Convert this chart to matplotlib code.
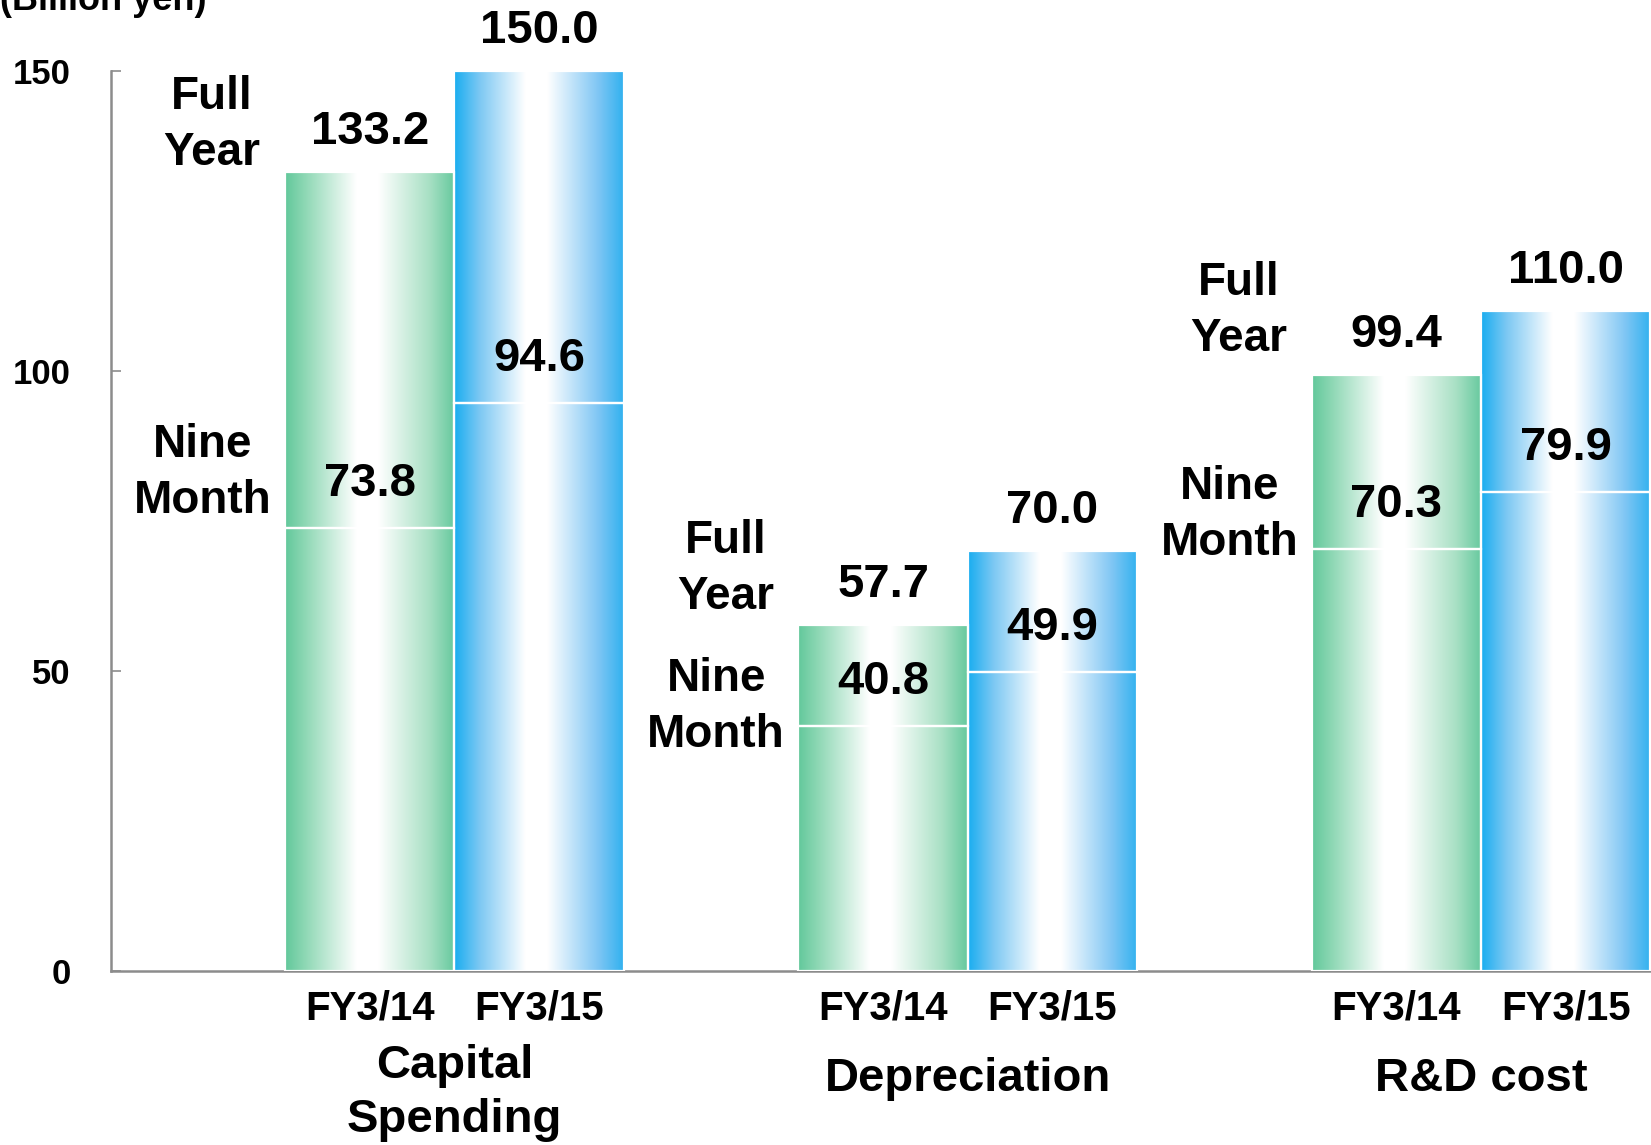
import numpy as np
import matplotlib.pyplot as plt
from matplotlib.colors import LinearSegmentedColormap

# Data (billion yen)
categories = ["Capital\nSpending", "Depreciation", "R&D cost"]
years = ["FY3/14", "FY3/15"]
full_year = [[133.2, 150.0], [57.7, 70.0], [99.4, 110.0]]
nine_month = [[73.8, 94.6], [40.8, 49.9], [70.3, 79.9]]
y_ticks = [0, 50, 100, 150]

# side label heights (layout only)
side_label_y = [(141, 83), (67, 44), (110, 76)]

plt.rcParams['font.family'] = ['Liberation Sans', 'DejaVu Sans']
plt.rcParams['font.weight'] = 'bold'

green = LinearSegmentedColormap.from_list(
    "g", [(0, "#62c89b"), (0.12, "#8fd8b5"), (0.42, "#ffffff"), (0.55, "#ffffff"), (0.85, "#a8e0c4"), (1, "#66c99e")])
blue = LinearSegmentedColormap.from_list(
    "b", [(0, "#19adf0"), (0.15, "#7cc8f3"), (0.42, "#ffffff"), (0.55, "#ffffff"), (0.85, "#7fc6f4"), (1, "#31b1ef")])
cmaps = [green, blue]

W, H = 1651, 1145
fig = plt.figure(figsize=(W / 100, H / 100), dpi=100)
ax = fig.add_axes([111 / W, 174 / H, 1 - 111 / W, 900 / H])

width = 0.33
grad = np.linspace(0, 1, 256).reshape(1, -1)
x_groups = np.arange(len(categories))

for j in range(len(years)):
    xs = x_groups + (j - 0.5) * width
    nm = [v[j] for v in nine_month]
    fy = [v[j] for v in full_year]
    rest = [f - n for f, n in zip(fy, nm)]
    low = ax.bar(xs, nm, width, facecolor="none", edgecolor="white", linewidth=1.6, zorder=3)
    top = ax.bar(xs, rest, width, bottom=nm, facecolor="none", edgecolor="white", linewidth=1.6, zorder=3)
    for r in list(low) + list(top):
        x0, y0 = r.get_x(), r.get_y()
        ax.imshow(grad, cmap=cmaps[j], aspect="auto", zorder=2,
                  extent=(x0, x0 + r.get_width(), y0, y0 + r.get_height()))
    for x, n, f in zip(xs, nm, fy):
        ax.annotate(f"{f:.1f}", (x, f), xytext=(0, 40), textcoords="offset pixels",
                    ha="center", va="center", fontsize=34, fontweight="bold", annotation_clip=False)
        ax.annotate(f"{n:.1f}", (x, n), xytext=(0, 44), textcoords="offset pixels",
                    ha="center", va="center", fontsize=34, fontweight="bold", zorder=5)
        ax.annotate(years[j], (x, 0), xycoords=("data", "axes fraction"), xytext=(0, -38),
                    textcoords="offset pixels", ha="center", va="center",
                    fontsize=29, fontweight="bold", annotation_clip=False)

for g, cat in enumerate(categories):
    fy_y, nm_y = side_label_y[g]
    ax.text(g - 0.472, fy_y, "Full\nYear", ha="center", va="center", fontsize=33,
            fontweight="bold", linespacing=1.38)
    ax.text(g - 0.49, nm_y, "Nine\nMonth", ha="center", va="center", fontsize=33,
            fontweight="bold", linespacing=1.38)
    off = -122 if "\n" in cat else -108
    ax.annotate(cat, (g, 0), xycoords=("data", "axes fraction"), xytext=(0, off),
                textcoords="offset pixels", ha="center", va="center", fontsize=34,
                fontweight="bold", linespacing=1.3, annotation_clip=False)

ax.set_xlim(-0.669, 2.331)
ax.set_ylim(0, 150)
ax.set_yticks(y_ticks)
ax.set_yticklabels([str(t) for t in y_ticks], fontsize=25, fontweight="bold")
ax.tick_params(axis="y", direction="in", length=7, width=1.2, color="#8c8c8c", pad=29)
ax.set_xticks([])
for s in ["top", "right"]:
    ax.spines[s].set_visible(False)
for s in ["left", "bottom"]:
    ax.spines[s].set_color("#8c8c8c")
    ax.spines[s].set_linewidth(1.8)

fig.text(0, 1 - 10 / H, "(Billion yen)", ha="left", va="baseline", fontsize=26, fontweight="bold")

fig.savefig("out.png", dpi=100)
